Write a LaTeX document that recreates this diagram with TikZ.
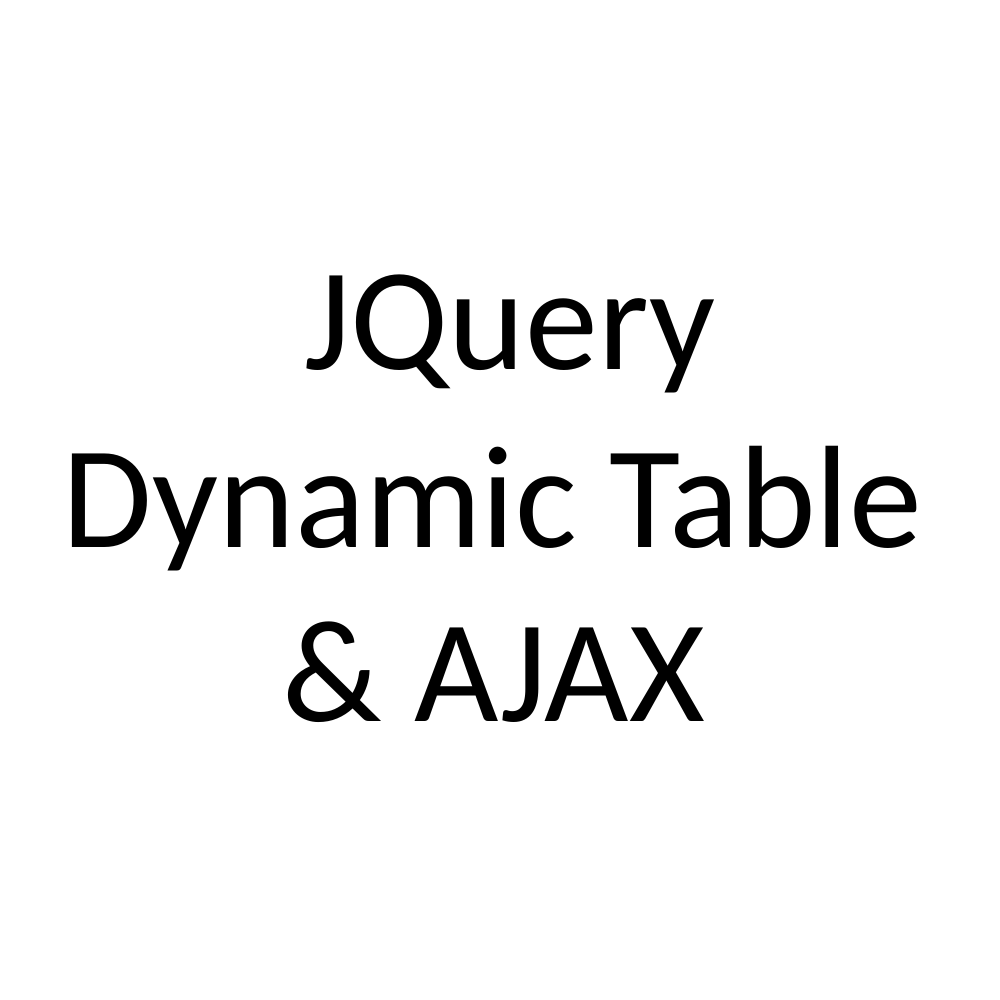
\documentclass[tikz,border=0pt]{standalone}
\usepackage{fontspec}
\setmainfont{Carlito}
\begin{document}
\begin{tikzpicture}[x=1cm,y=1cm,
  title/.style={anchor=base,inner sep=0pt,font=\fontsize{41.5}{50}\selectfont,text=black}]
\useasboundingbox[fill=white] (0,0) rectangle (10,10);
\node[title] (l1) at (5.10,6.30) {JQuery};
\node[title] (l2) at (4.925,4.52) {Dynamic Table};
\node[title] (l3) at (4.935,2.78) {\& AJAX};
\end{tikzpicture}
\end{document}
